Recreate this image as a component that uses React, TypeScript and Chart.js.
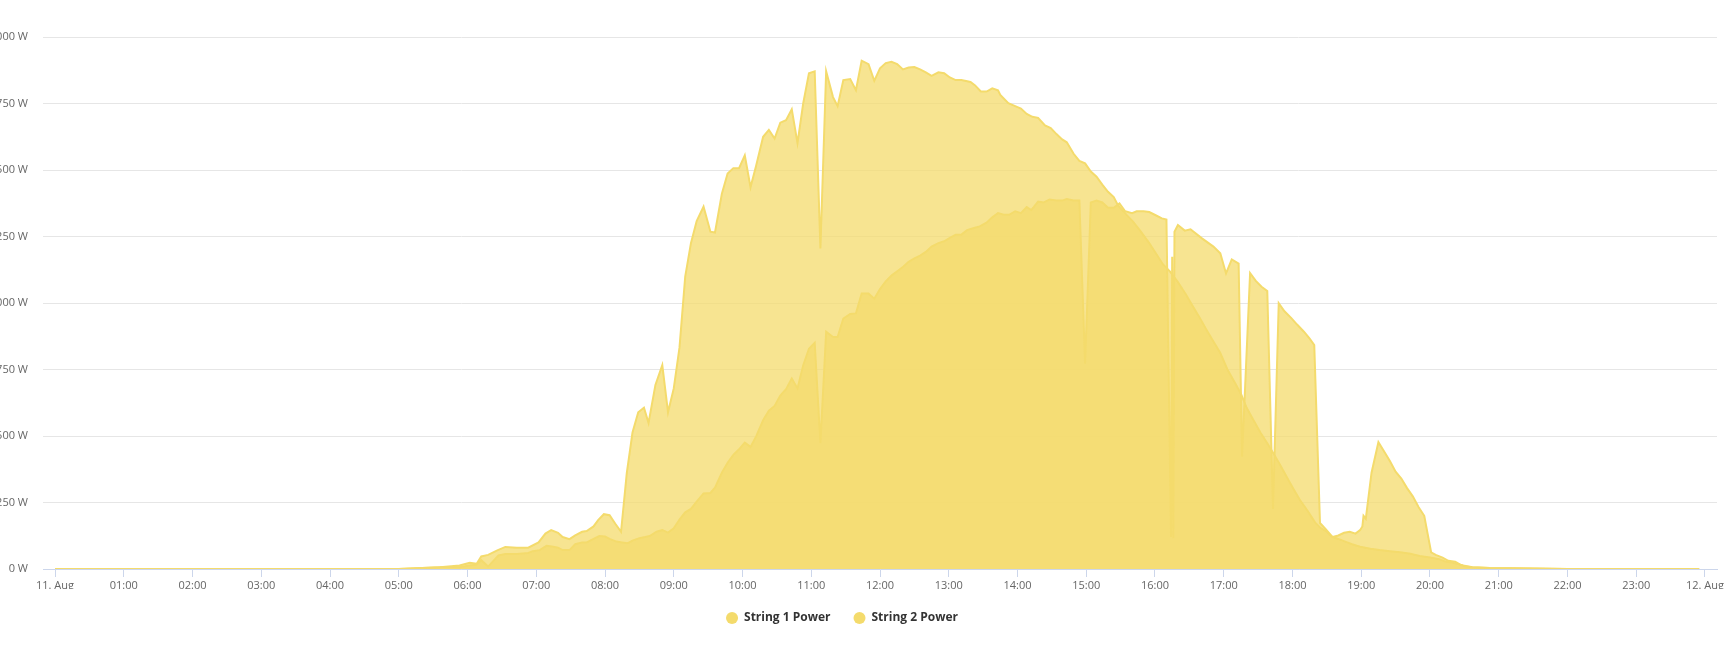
import React, { useEffect, useRef } from "react";
import { Chart, registerables } from "chart.js";

Chart.register(...registerables);

const seriesNames = ["String 1 Power", "String 2 Power"];

const string1Times = [
  "00:00", "05:00", "05:36", "05:53", "06:02", "06:08", "06:12", "06:18", "06:26", "06:33", "06:43", "06:53",
  "07:02", "07:08", "07:13", "07:19", "07:23", "07:29", "07:34", "07:40", "07:44", "07:50", "07:54", "07:59",
  "08:04", "08:09", "08:14", "08:19", "08:24", "08:29", "08:34", "08:38", "08:44", "08:50", "08:55", "09:00",
  "09:05", "09:10", "09:15", "09:20", "09:26", "09:32", "09:36", "09:42", "09:47", "09:52", "09:57", "10:02",
  "10:07", "10:12", "10:18", "10:23", "10:28", "10:33", "10:38", "10:43", "10:48", "10:53", "10:58", "11:03",
  "11:08", "11:13", "11:19", "11:23", "11:28", "11:34", "11:39", "11:44", "11:50", "11:55", "12:00", "12:05",
  "12:10", "12:15", "12:20", "12:25", "12:30", "12:35", "12:40", "12:45", "12:51", "12:56", "13:01", "13:06",
  "13:11", "13:19", "13:23", "13:28", "13:33", "13:38", "13:43", "13:45", "13:52", "13:58", "14:03", "14:08",
  "14:13", "14:18", "14:24", "14:29", "14:34", "14:39", "14:43", "14:49", "14:54", "14:59", "15:04", "15:09",
  "15:14", "15:19", "15:24", "15:28", "15:35", "15:41", "15:47", "15:55", "16:01", "16:07", "16:13", "16:20",
  "16:27", "16:33", "16:39", "16:45", "16:51", "16:57", "17:03", "17:09", "17:15", "17:20", "17:26", "17:32",
  "17:38", "17:43", "17:49", "17:55", "18:01", "18:07", "18:13", "18:17", "18:20", "18:24", "18:30", "18:34",
  "18:40", "18:46", "18:52", "18:59", "19:08", "19:16", "19:25", "19:34", "19:43", "19:51", "20:00", "20:08",
  "20:14", "20:20", "20:29", "20:37", "20:52", "21:30", "22:00", "23:55",
];
const string1Values = [
  0, 0, 7, 13, 23, 20, 47, 53, 70, 83, 80, 80,
  100, 133, 146, 136, 120, 112, 126, 140, 143, 160, 184, 206,
  202, 170, 140, 360, 513, 589, 606, 549, 692, 766, 589, 679,
  832, 1099, 1225, 1308, 1362, 1268, 1265, 1411, 1487, 1507, 1507, 1555,
  1435, 1518, 1625, 1651, 1618, 1678, 1687, 1728, 1601, 1751, 1864, 1871,
  1205, 1871, 1774, 1740, 1838, 1842, 1800, 1911, 1898, 1835, 1882, 1902,
  1907, 1898, 1878, 1885, 1887, 1878, 1867, 1854, 1867, 1864, 1848, 1838,
  1838, 1831, 1818, 1795, 1795, 1807, 1800, 1782, 1751, 1740, 1731, 1711,
  1700, 1696, 1668, 1658, 1635, 1615, 1604, 1561, 1534, 1525, 1494, 1475,
  1445, 1418, 1398, 1365, 1332, 1305, 1272, 1225, 1185, 1145, 1119, 1079,
  1032, 988, 945, 899, 855, 812, 752, 706, 659, 606, 559, 513,
  473, 437, 393, 346, 300, 256, 220, 193, 173, 156, 140, 122,
  113, 103, 93, 84, 76, 71, 67, 63, 57, 49, 43, 37,
  27, 23, 13, 7, 4, 2, 0, 0,
];

const string2Times = [
  "00:00", "05:00", "05:36", "05:53", "06:02", "06:08", "06:12", "06:18", "06:27", "06:33", "06:43", "06:53",
  "06:57", "07:03", "07:09", "07:15", "07:19", "07:23", "07:29", "07:34", "07:40", "07:44", "07:50", "07:55",
  "08:00", "08:04", "08:10", "08:15", "08:20", "08:24", "08:30", "08:35", "08:39", "08:45", "08:50", "08:55",
  "09:00", "09:05", "09:10", "09:15", "09:20", "09:26", "09:32", "09:36", "09:42", "09:47", "09:52", "09:57",
  "10:02", "10:07", "10:12", "10:18", "10:23", "10:28", "10:33", "10:38", "10:43", "10:48", "10:53", "10:58",
  "11:03", "11:08", "11:13", "11:19", "11:23", "11:28", "11:34", "11:39", "11:44", "11:50", "11:55", "12:00",
  "12:05", "12:10", "12:15", "12:20", "12:25", "12:30", "12:35", "12:40", "12:45", "12:51", "12:56", "13:01",
  "13:06", "13:11", "13:16", "13:22", "13:27", "13:33", "13:38", "13:43", "13:48", "13:53", "13:58", "14:03",
  "14:08", "14:12", "14:18", "14:23", "14:28", "14:34", "14:39", "14:43", "14:49", "14:54", "14:59", "15:04",
  "15:09", "15:14", "15:19", "15:24", "15:29", "15:34", "15:40", "15:44", "15:50", "15:55", "16:01", "16:06",
  "16:10", "16:14", "16:15", "16:16", "16:17", "16:20", "16:26", "16:31", "16:41", "16:51", "16:57", "17:02",
  "17:07", "17:13", "17:16", "17:23", "17:28", "17:33", "17:38", "17:43", "17:48", "17:53", "17:59", "18:04",
  "18:10", "18:15", "18:19", "18:24", "18:29", "18:35", "18:40", "18:45", "18:50", "18:55", "18:59", "19:01",
  "19:02", "19:04", "19:09", "19:15", "19:20", "19:25", "19:30", "19:35", "19:40", "19:45", "19:50", "19:55",
  "20:01", "20:05", "20:11", "20:16", "20:22", "20:26", "20:31", "20:37", "20:52", "21:30", "22:00", "23:55",
];
const string2Values = [
  0, 0, 7, 7, 13, 17, 33, 9, 51, 56, 56, 60,
  67, 71, 87, 84, 80, 71, 71, 93, 100, 100, 113, 124,
  122, 113, 103, 100, 97, 107, 116, 120, 124, 140, 146, 137,
  153, 186, 213, 226, 253, 284, 286, 306, 362, 399, 429, 450,
  475, 459, 499, 559, 595, 613, 652, 676, 716, 679, 766, 828,
  850, 473, 892, 872, 872, 941, 959, 961, 1036, 1036, 1016, 1052,
  1081, 1103, 1119, 1135, 1155, 1168, 1178, 1192, 1212, 1225, 1232, 1245,
  1257, 1257, 1274, 1282, 1288, 1302, 1322, 1338, 1332, 1332, 1345, 1338,
  1361, 1349, 1381, 1378, 1389, 1385, 1385, 1391, 1385, 1385, 772, 1378,
  1385, 1378, 1358, 1358, 1374, 1345, 1338, 1345, 1345, 1342, 1329, 1318,
  1314, 120, 1174, 116, 1268, 1293, 1272, 1277, 1243, 1212, 1187, 1111,
  1164, 1148, 422, 1112, 1083, 1061, 1045, 226, 999, 969, 943, 919,
  892, 866, 842, 173, 150, 120, 126, 136, 140, 133, 146, 160,
  200, 189, 362, 477, 442, 406, 366, 340, 304, 273, 233, 200,
  63, 53, 43, 31, 27, 17, 9, 7, 4, 2, 0, 0,
];

const xTickHours = [
  0, 1, 2, 3, 4, 5, 6, 7, 8, 9, 10, 11, 12, 13, 14, 15, 16, 17, 18, 19, 20, 21, 22, 23, 24,
];
const xTickLabels = [
  "11. Aug", "01:00", "02:00", "03:00", "04:00", "05:00", "06:00", "07:00", "08:00", "09:00",
  "10:00", "11:00", "12:00", "13:00", "14:00", "15:00", "16:00", "17:00", "18:00", "19:00",
  "20:00", "21:00", "22:00", "23:00", "12. Aug",
];
const yTickValues = [0, 250, 500, 750, 1000, 1250, 1500, 1750, 2000];

const LINE_COLOR = "rgb(244, 219, 108)";
const FILL_COLOR = "rgba(244, 219, 108, 0.75)";
const FONT = "'Open Sans', 'Noto Sans', sans-serif";

function toHours(t: string): number {
  const [h, m] = t.split(":").map(Number);
  return h + m / 60;
}

function formatWatts(v: number): string {
  const s = String(Math.round(v));
  return s.replace(/\B(?=(\d{3})+(?!\d))/g, " ") + " W";
}

export default function App() {
  const canvasRef = useRef<HTMLCanvasElement | null>(null);

  useEffect(() => {
    if (!canvasRef.current) return;
    const series = [
      { times: string1Times, values: string1Values },
      { times: string2Times, values: string2Values },
    ];
    const chart = new Chart(canvasRef.current, {
      type: "line",
      data: {
        datasets: series.map((s, i) => ({
          label: seriesNames[i],
          data: s.times.map((t, j) => ({ x: toHours(t), y: s.values[j] })),
          borderColor: LINE_COLOR,
          backgroundColor: FILL_COLOR,
          fill: "origin",
          borderWidth: 2,
          pointRadius: 0,
          pointHoverRadius: 0,
          tension: 0,
        })),
      },
      options: {
        animation: false,
        responsive: true,
        maintainAspectRatio: false,
        layout: { padding: { top: 37, right: 18, bottom: 20, left: 0 } },
        scales: {
          x: {
            type: "linear",
            min: -0.175,
            max: 24.175,
            afterBuildTicks: (scale: any) => {
              scale.ticks = xTickHours.map((v) => ({ value: v }));
            },
            afterFit: (scale: any) => {
              scale.height = 20;
            },
            ticks: {
              autoSkip: false,
              maxRotation: 0,
              padding: 2,
              color: "#666666",
              font: { family: FONT, size: 11 },
              callback: (value: any) => {
                const idx = xTickHours.indexOf(Math.round(Number(value)));
                return idx >= 0 ? xTickLabels[idx] : "";
              },
            },
            grid: {
              drawOnChartArea: false,
              drawTicks: true,
              tickLength: 8,
              tickColor: "#ccd6eb",
            },
            border: { display: true, color: "#ccd6eb", width: 1 },
          },
          y: {
            min: 0,
            max: 2000,
            afterBuildTicks: (scale: any) => {
              scale.ticks = yTickValues.map((v) => ({ value: v }));
            },
            afterFit: (scale: any) => {
              scale.width = 76;
            },
            ticks: {
              padding: 15,
              color: "#666666",
              font: { family: FONT, size: 11 },
              callback: (value: any) => formatWatts(Number(value)),
            },
            grid: { color: "#e6e6e6", drawTicks: false, lineWidth: 1 },
            border: { display: false },
          },
        },
        plugins: {
          legend: {
            position: "bottom",
            labels: {
              usePointStyle: true,
              pointStyle: "circle",
              boxWidth: 12,
              boxHeight: 8.5,
              padding: 23,
              color: "#333333",
              font: { family: FONT, size: 12, weight: "bold" },
              generateLabels: (c: any) =>
                c.data.datasets.map((ds: any, i: number) => ({
                  text: ds.label,
                  fillStyle: LINE_COLOR,
                  strokeStyle: LINE_COLOR,
                  lineWidth: 0,
                  pointStyle: "circle",
                  hidden: false,
                  datasetIndex: i,
                  fontColor: "#333333",
                })),
            },
          },
          tooltip: { enabled: false },
        },
      },
    } as any);
    return () => chart.destroy();
  }, []);

  return (
    <div
      style={{
        position: "fixed",
        left: 0,
        top: 0,
        width: "100vw",
        height: "100vh",
        overflow: "hidden",
        background: "#ffffff",
      }}
    >
      <div style={{ position: "absolute", left: -33, top: 0, width: 1768, height: 654 }}>
        <canvas ref={canvasRef} />
      </div>
    </div>
  );
}
